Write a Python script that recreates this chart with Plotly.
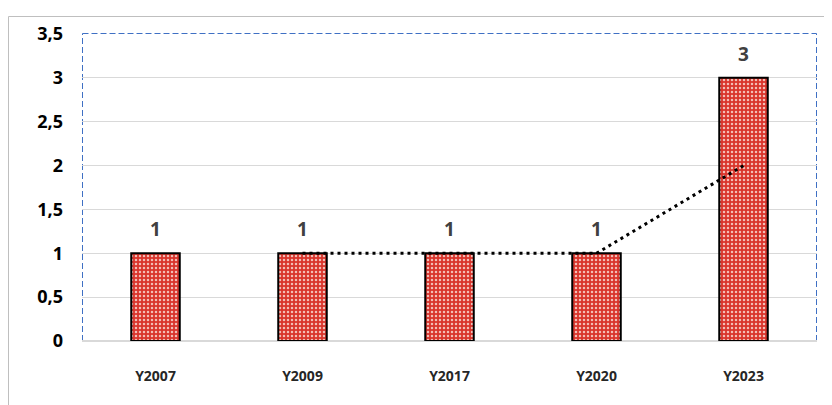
import plotly.graph_objects as go
import pandas as pd

categories = ["Y2007", "Y2009", "Y2017", "Y2020", "Y2023"]
values = [1, 1, 1, 1, 3]
y_ticks = [0, 0.5, 1, 1.5, 2, 2.5, 3, 3.5]

trend = pd.Series(values).rolling(2).mean().tolist()

fig = go.Figure()
fig.add_trace(go.Bar(
    x=categories, y=values,
    marker=dict(
        color="#D9342B",
        line=dict(color="black", width=2),
        pattern=dict(shape=".", fillmode="replace", bgcolor="#D9342B",
                     fgcolor="#F4BDB6", size=4, solidity=0.3),
    ),
    width=0.33,
    showlegend=False,
))
fig.add_trace(go.Scatter(
    x=categories, y=trend, mode="lines",
    line=dict(color="black", width=3, dash="3px,4px"),
    showlegend=False, hoverinfo="skip",
))

annotations = [
    dict(x=c, y=v, xref="x", yref="y", text=str(v), showarrow=False,
         yanchor="bottom", yshift=9,
         font=dict(family="Open Sans", size=19, color="#404040", weight="bold"))
    for c, v in zip(categories, values)
]

PW, PH = 735, 307
blue = "#3F70C4"
dash_line = dict(color=blue, width=1, dash="6px,3px")
shapes = [
    dict(type="rect", xref="paper", yref="paper",
         x0=-74 / PW + 0.5 / PW, x1=1.3, y0=-0.5, y1=1 + 17.5 / PH,
         line=dict(color="#BFBFBF", width=1), layer="below"),
    dict(type="line", xref="paper", yref="paper", x0=0.5 / PW, x1=0.5 / PW, y0=0, y1=1 + 0.5 / PH,
         line=dash_line, layer="below"),
    dict(type="line", xref="paper", yref="paper", x0=0.5 / PW, x1=1 - 0.5 / PW,
         y0=1 + 0.5 / PH, y1=1 + 0.5 / PH, line=dash_line, layer="below"),
    dict(type="line", xref="paper", yref="paper", x0=1 - 0.5 / PW, x1=1 - 0.5 / PW, y0=0, y1=1 + 0.5 / PH,
         line=dash_line, layer="below"),
]

fig.update_layout(
    width=824, height=397,
    margin=dict(l=74, r=15, t=26, b=64),
    paper_bgcolor="white", plot_bgcolor="white",
    separators=", ",
    bargap=0.67,
    shapes=shapes,
    annotations=annotations,
    font=dict(family="Open Sans", color="black"),
    xaxis=dict(
        showgrid=False, showline=True, linecolor="#D9D9D9", linewidth=1,
        ticks="", tickfont=dict(size=14, color="#262626", weight="bold"),
        ticklabelstandoff=22,
    ),
    yaxis=dict(
        range=[0, 3.5], tickvals=y_ticks,
        showgrid=True, gridcolor="#D9D9D9", gridwidth=1,
        zeroline=True, zerolinecolor="#D9D9D9",
        showline=False, ticks="",
        tickfont=dict(size=18, color="black", weight="bold"),
        ticklabelstandoff=18,
    ),
)

fig.write_html("out.html")
